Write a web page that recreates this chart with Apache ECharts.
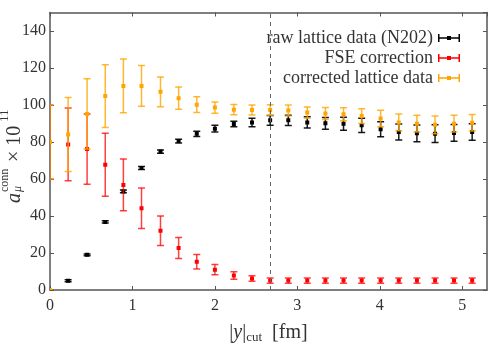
<!DOCTYPE html>
<html>
<head>
<meta charset="utf-8">
<script src="https://cdn.jsdelivr.net/npm/echarts@6/dist/echarts.min.js"></script>
<style>
  html, body { margin: 0; padding: 0; background: #fff; }
  #chart { width: 499px; height: 349px; }
</style>
</head>
<body>
<div id="chart"></div>
<script>
// |y|_cut values in fm
var yCut = [0, 0.22, 0.45, 0.67, 0.89, 1.11, 1.34, 1.56, 1.78, 2.00, 2.23, 2.45,
            2.67, 2.89, 3.12, 3.34, 3.56, 3.78, 4.01, 4.23, 4.45, 4.67, 4.90, 5.12];

var raw    = [0, 5.0, 19.0, 36.8, 53.3, 65.9, 74.8, 80.5, 84.4, 87.2, 89.7, 90.6,
              91.7, 91.7, 90.6, 90.1, 89.9, 89.0, 86.9, 85.4, 84.7, 84.5, 84.9, 85.4];
var rawErr = [0, 0.5, 0.5, 0.6, 0.7, 0.8, 0.9, 1.0, 1.4, 1.8, 1.5, 2.3,
              2.6, 2.8, 3.0, 3.2, 3.5, 3.8, 4.0, 4.3, 4.5, 4.8, 4.5, 4.5];

var fse    = [80, 78.7, 76.2, 67.7, 56.8, 44.2, 32.0, 22.7, 15.3, 11.0, 7.8, 6.2,
              5.1, 5.1, 5.1, 5.1, 5.1, 5.1, 5.1, 5.1, 5.1, 5.1, 5.1, 5.1];
var fseErr = [20, 19.7, 19, 17, 14, 11, 8, 5.7, 3.9, 2.8, 2.0, 1.5,
              1.4, 1.4, 1.4, 1.4, 1.4, 1.4, 1.4, 1.4, 1.4, 1.4, 1.4, 1.4];

var corrected    = [80, 84.0, 95.2, 104.8, 110.3, 110.3, 107.1, 103.7, 100.2, 98.6, 97.5, 97.3,
                    97.3, 97.0, 95.9, 95.4, 95.0, 94.0, 92.7, 90.6, 89.9, 89.3, 89.9, 90.4];
var correctedErr = [20, 20, 19, 17, 14.5, 11, 8, 6, 4.2, 3, 2.8, 2.7,
                    2.9, 3, 3, 3.2, 3.5, 4, 4.5, 4.5, 4.5, 4.8, 4.5, 4.5];
var originPoint = [0, 0, 0];

var xTicks = [0, 1, 2, 3, 4, 5];
var yTicks = [0, 20, 40, 60, 80, 100, 120, 140];
var cutLine = 2.67;

var FONT = 'Liberation Serif';
var AXIS_COLOR = '#555';
var TEXT_COLOR = '#333';

function toRows(xs, ys, es) {
  var out = [];
  for (var i = 0; i < xs.length; i++) out.push([xs[i], ys[i], es[i]]);
  return out;
}

function errRender(color, opacity) {
  return function (params, api) {
    var x = api.value(0), y = api.value(1), e = api.value(2);
    var p = api.coord([x, y]);
    var hi = api.coord([x, y + e]);
    var lo = api.coord([x, y - e]);
    var w = 3.5;
    var ls = { stroke: color, lineWidth: 1.5, opacity: opacity };
    return {
      type: 'group',
      children: [
        { type: 'line', shape: { x1: p[0], y1: hi[1], x2: p[0], y2: lo[1] }, style: ls },
        { type: 'line', shape: { x1: p[0] - w, y1: hi[1], x2: p[0] + w, y2: hi[1] }, style: ls },
        { type: 'line', shape: { x1: p[0] - w, y1: lo[1], x2: p[0] + w, y2: lo[1] }, style: ls },
        { type: 'rect', shape: { x: p[0] - 2, y: p[1] - 2, width: 4, height: 4 }, style: { fill: color } }
      ]
    };
  };
}

function frameAxis(extra) {
  var base = {
    type: 'value',
    axisLine: { show: true, onZero: false, lineStyle: { color: AXIS_COLOR, width: 1.5 } },
    axisTick: { show: true, inside: true, length: 4, lineStyle: { color: AXIS_COLOR } },
    axisLabel: { show: false },
    splitLine: { show: false }
  };
  return Object.assign(base, extra);
}

var barIcon = 'path://M0,0h1.5v8h-1.5z M0,3.3h22v1.4h-22z M20.5,0h1.5v8h-1.5z M9,2h4v4h-4z';

var chart = echarts.init(document.getElementById('chart'));
var option = {
  animation: false,
  textStyle: { fontFamily: FONT },
  grid: { left: 50, right: 12, top: 12.5, bottom: 54 },
  legend: {
    orient: 'vertical',
    align: 'right',
    right: 34,
    top: 24,
    itemWidth: 22,
    itemHeight: 8,
    itemGap: 2,
    icon: barIcon,
    textStyle: { fontFamily: FONT, fontSize: 18, color: TEXT_COLOR },
    data: ['raw lattice data (N202)', 'FSE correction', 'corrected lattice data']
  },
  xAxis: [frameAxis({
    min: 0, max: 5.3, interval: 1,
    axisLabel: {
      show: true, showMaxLabel: false, fontSize: 16, color: TEXT_COLOR, margin: 8, fontFamily: FONT,
      formatter: function (v) { return xTicks.indexOf(v) >= 0 ? String(v) : ''; }
    },
    name: '|{i|y}|{s|cut}  [fm]',
    nameLocation: 'middle',
    nameGap: 32,
    nameTextStyle: {
      fontSize: 20, color: TEXT_COLOR, fontFamily: FONT, lineHeight: 22,
      rich: {
        i: { fontStyle: 'italic', fontSize: 20, fontFamily: FONT, color: TEXT_COLOR, lineHeight: 22 },
        s: { fontSize: 13, fontFamily: FONT, color: TEXT_COLOR, verticalAlign: 'bottom', lineHeight: 16 }
      }
    }
  }), frameAxis({
    position: 'top', min: 0, max: 5.3, interval: 1
  })],
  yAxis: [frameAxis({
    min: 0, max: 150, interval: 20,
    axisLabel: {
      show: true, showMaxLabel: false, fontSize: 16, color: TEXT_COLOR, margin: 4, fontFamily: FONT,
      formatter: function (v) { return yTicks.indexOf(v) >= 0 ? String(v) : ''; }
    }
  }), frameAxis({
    position: 'right', min: 0, max: 150, interval: 20
  })],
  // rotated y-axis title: a_mu^conn x 10^11
  graphic: [{
    type: 'group',
    x: 15, y: 203,
    rotation: Math.PI / 2,
    children: [
      { type: 'text', x: 0, y: 0, style: { text: 'a', font: 'italic 20px ' + FONT, fill: TEXT_COLOR, verticalAlign: 'middle' } },
      { type: 'text', x: 11, y: -10, style: { text: 'conn', font: '12px ' + FONT, fill: TEXT_COLOR, verticalAlign: 'middle' } },
      { type: 'text', x: 11, y: 3, style: { text: 'μ', font: 'italic 12px ' + FONT, fill: TEXT_COLOR, verticalAlign: 'middle' } },
      { type: 'text', x: 41, y: 0, style: { text: '× 10', font: '20px ' + FONT, fill: TEXT_COLOR, verticalAlign: 'middle' } },
      { type: 'text', x: 81, y: -10, style: { text: '11', font: '13px ' + FONT, fill: TEXT_COLOR, verticalAlign: 'middle' } }
    ]
  }],
  series: [{
    name: 'raw lattice data (N202)',
    type: 'custom',
    clip: true,
    itemStyle: { color: '#000' },
    renderItem: errRender('#000', 0.9),
    data: toRows(yCut, raw, rawErr),
    markLine: {
      silent: true,
      symbol: 'none',
      label: { show: false },
      lineStyle: { color: '#666', type: [4, 4], width: 1 },
      data: [{ xAxis: cutLine }]
    }
  }, {
    name: 'FSE correction',
    type: 'custom',
    clip: true,
    itemStyle: { color: '#ff0000' },
    renderItem: errRender('#ff0000', 0.75),
    data: toRows(yCut, fse, fseErr)
  }, {
    name: 'corrected lattice data',
    type: 'custom',
    clip: true,
    itemStyle: { color: '#ffa500' },
    renderItem: errRender('#ffa500', 0.8),
    data: toRows(yCut, corrected, correctedErr).concat([originPoint])
  }]
};
chart.setOption(option);
</script>
</body>
</html>
